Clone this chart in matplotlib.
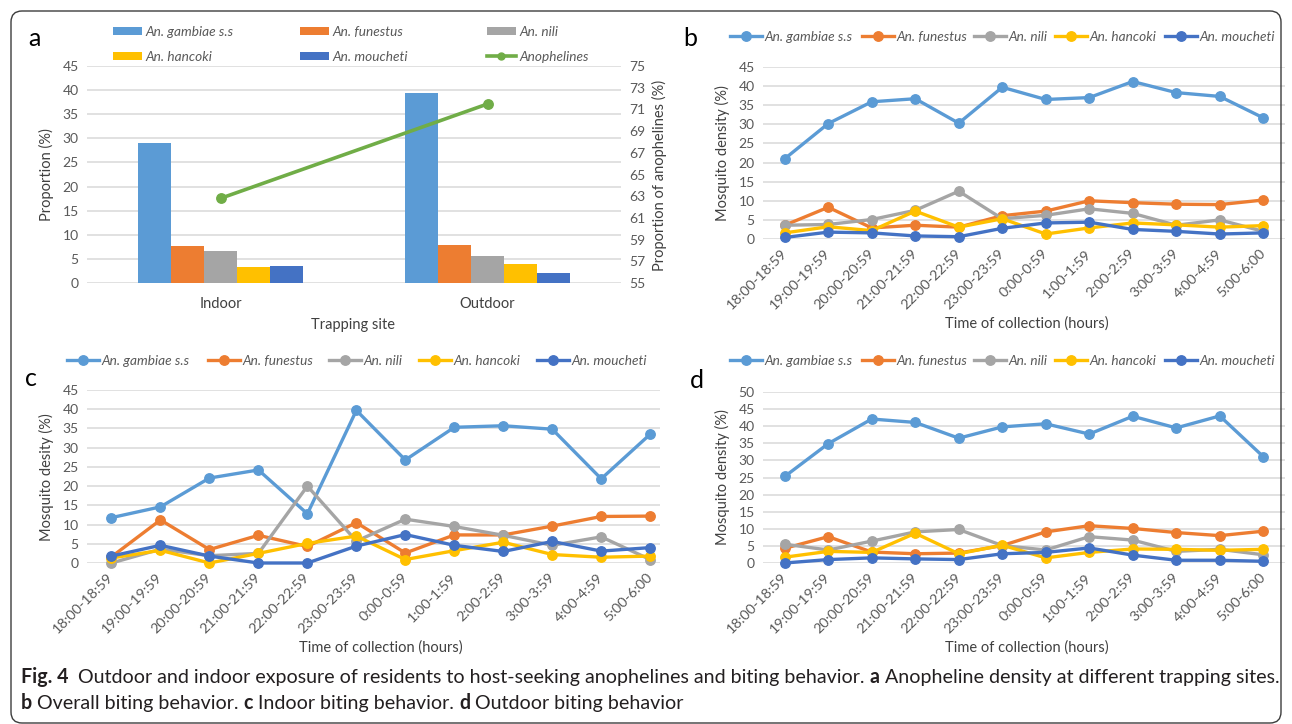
import matplotlib
matplotlib.use("Agg")
import matplotlib.pyplot as plt
from matplotlib.lines import Line2D
from matplotlib.patches import Patch, FancyBboxPatch
from matplotlib.transforms import IdentityTransform
import numpy as np

W, H, DPI = 1292, 724, 100
FONT = "Lato"
plt.rcParams["font.family"] = [FONT, "DejaVu Sans"]

species = ["An. gambiae s.s", "An. funestus", "An. nili", "An. hancoki", "An. moucheti"]
colors = ["#5B9BD5", "#ED7D31", "#A5A5A5", "#FFC000", "#4472C4"]
green = "#70AD47"

# (a) proportions by trapping site
sites = ["Indoor", "Outdoor"]
prop_gambiae = [29.1, 39.3]
prop_funestus = [7.6, 7.8]
prop_nili = [6.7, 5.7]
prop_hancoki = [3.4, 3.9]
prop_moucheti = [3.6, 2.1]
prop_anophelines = [62.8, 71.5]

hours = ["18:00-18:59", "19:00-19:59", "20:00-20:59", "21:00-21:59", "22:00-22:59",
         "23:00-23:59", "0:00-0:59", "1:00-1:59", "2:00-2:59", "3:00-3:59",
         "4:00-4:59", "5:00-6:00"]

# (b) overall biting behaviour
b_gambiae = [21.0, 30.2, 35.9, 36.7, 30.3, 39.7, 36.5, 37.0, 41.2, 38.3, 37.3, 31.7]
b_funestus = [3.6, 8.3, 2.9, 3.6, 3.1, 6.1, 7.3, 10.0, 9.5, 9.1, 9.0, 10.2]
b_nili = [3.6, 3.8, 5.1, 7.5, 12.5, 5.3, 6.2, 7.9, 6.7, 3.6, 5.0, 2.0]
b_hancoki = [1.6, 3.2, 2.2, 7.3, 3.1, 5.3, 1.3, 2.9, 4.2, 3.7, 3.1, 3.5]
b_moucheti = [0.4, 1.8, 1.6, 0.8, 0.6, 2.8, 4.2, 4.4, 2.5, 2.0, 1.3, 1.6]

# (c) indoor biting behaviour
c_gambiae = [11.8, 14.6, 22.1, 24.2, 12.8, 39.7, 26.8, 35.3, 35.7, 34.8, 21.9, 33.5]
c_funestus = [1.6, 11.2, 3.5, 7.2, 4.3, 10.5, 2.6, 7.3, 7.3, 9.6, 12.1, 12.2]
c_nili = [0.0, 3.6, 1.9, 2.5, 20.0, 5.7, 11.4, 9.5, 7.2, 4.6, 6.8, 0.9]
c_hancoki = [1.3, 3.3, 0.0, 2.5, 5.1, 7.0, 0.9, 3.2, 5.4, 2.2, 1.5, 1.8]
c_moucheti = [1.8, 4.6, 1.8, 0.0, 0.0, 4.4, 7.4, 4.6, 3.0, 5.6, 3.1, 4.0]

# (d) outdoor biting behaviour
d_gambiae = [25.3, 34.9, 42.1, 41.1, 36.5, 39.8, 40.7, 37.7, 42.9, 39.5, 43.0, 31.1]
d_funestus = [4.3, 7.7, 3.2, 2.7, 2.9, 5.1, 9.1, 10.9, 10.1, 8.9, 8.0, 9.3]
d_nili = [5.5, 3.8, 6.4, 9.1, 9.8, 5.1, 3.8, 7.7, 6.7, 3.4, 4.0, 2.4]
d_hancoki = [1.7, 3.4, 3.1, 8.7, 2.7, 5.2, 1.5, 3.1, 4.1, 4.0, 3.7, 4.0]
d_moucheti = [0.0, 1.0, 1.5, 1.2, 1.0, 2.7, 3.1, 4.4, 2.3, 0.8, 0.8, 0.5]

TICK_C = "#595959"
LABEL_C = "#404040"
GRID_C = "#D9D9D9"

fig = plt.figure(figsize=(W / DPI, H / DPI), dpi=DPI)


def fx(x):
    return x / W


def fy(y):
    return 1 - y / H


def px_axes(x0, y0, x1, y1):
    return fig.add_axes([fx(x0), fy(y1), (x1 - x0) / W, (y1 - y0) / H])


def excel_style(ax, ymax, step):
    ax.set_ylim(0, ymax)
    ax.set_yticks(np.arange(0, ymax + 1, step))
    for s in ax.spines.values():
        s.set_visible(False)
    ax.grid(axis="y", color=GRID_C, lw=1.1)
    ax.set_axisbelow(True)
    ax.tick_params(length=0, labelsize=10, colors=TICK_C, pad=6)


def line_panel(ax, series, ymax, step, xright):
    excel_style(ax, ymax, step)
    x = np.arange(len(hours))
    for k, (vals, c) in enumerate(zip(series, colors)):
        ax.plot(x, vals, color=c, lw=2.4, marker="o", ms=6.8, zorder=3 + k,
                clip_on=False, solid_joinstyle="round")
    ax.set_xlim(-0.5, xright)
    ax.set_xticks(x)
    ax.set_xticklabels(hours, rotation=45, ha="right", va="center",
                       rotation_mode="anchor", fontsize=10.4)
    ax.tick_params(axis="x", pad=9)


def line_legend(xs, y):
    for name, c, x0 in zip(species, colors, xs):
        h = Line2D([0], [0], color=c, lw=2.4, marker="o", ms=6.8)
        leg = fig.legend([h], [name], loc="center left",
                         bbox_to_anchor=(fx(x0), fy(y)), frameon=False,
                         borderpad=0, borderaxespad=0, handlelength=2.35,
                         handletextpad=0.2,
                         prop={"family": FONT, "style": "italic", "size": 9.8})
        for t in leg.get_texts():
            t.set_color(TICK_C)


# ---------------- panel a ----------------
axa = px_axes(87, 66, 621, 283)
excel_style(axa, 45, 5)
xa = np.arange(len(sites))
bw = 0.124
bar_series = [prop_gambiae, prop_funestus, prop_nili, prop_hancoki, prop_moucheti]
for i, (vals, c) in enumerate(zip(bar_series, colors)):
    axa.bar(xa + (i - 2) * bw, vals, bw, color=c, zorder=2)
axa.set_xlim(-0.5, 1.5)
axa.set_xticks(xa)
axa.set_xticklabels(sites, fontsize=10.5)
axa.tick_params(axis="x", pad=10, colors=LABEL_C)

axa2 = axa.twinx()
axa2.set_ylim(55, 75)
axa2.set_yticks(np.arange(55, 76, 2))
for s in axa2.spines.values():
    s.set_visible(False)
axa2.tick_params(length=0, labelsize=10, colors=TICK_C, pad=6)
axa2.plot(xa, prop_anophelines, color=green, lw=2.6, marker="o", ms=6.8,
          zorder=5)
axa2.set_xlim(-0.5, 1.5)

# legend of panel a: three columns, two rows
bar_handles = [Patch(facecolor=c, edgecolor="none") for c in colors]
green_handle = Line2D([0], [0], color=green, lw=2.6, marker="o", ms=5)
cols = [
    ([bar_handles[0], bar_handles[3]], [species[0], species[3]], 113),
    ([bar_handles[1], bar_handles[4]], [species[1], species[4]], 300),
    ([bar_handles[2], green_handle], [species[2], "Anophelines"], 487),
]
for hs, ls, x0 in cols:
    leg = fig.legend(hs, ls, loc="upper left", bbox_to_anchor=(fx(x0), fy(26)),
                     frameon=False, borderpad=0, borderaxespad=0,
                     handlelength=2.1, handleheight=0.55, handletextpad=0.25,
                     labelspacing=0.95,
                     prop={"family": FONT, "style": "italic", "size": 9.8})
    for t in leg.get_texts():
        t.set_color(TICK_C)

# ---------------- panel b ----------------
axb = px_axes(763, 67, 1285, 239)
line_panel(axb, [b_gambiae, b_funestus, b_nili, b_hancoki, b_moucheti], 45, 5, 11.5)
line_legend([730, 862, 974, 1055, 1165], 37)

# ---------------- panel c ----------------
axc = px_axes(87, 390, 660, 563)
line_panel(axc, [c_gambiae, c_funestus, c_nili, c_hancoki, c_moucheti], 45, 5, 11.2)
line_legend([67, 208, 329, 419, 537], 361)

# ---------------- panel d ----------------
axd = px_axes(763, 392, 1285, 563)
line_panel(axd, [d_gambiae, d_funestus, d_nili, d_hancoki, d_moucheti], 50, 5, 11.5)
line_legend([730, 862, 974, 1055, 1165], 361)

# panel letters
for letter, x0, y0 in [("a", 34, 39), ("b", 690, 38), ("c", 31, 379), ("d", 697, 381)]:
    fig.text(fx(x0), fy(y0), letter, fontsize=18, ha="center", va="center",
             color="#000000")

# axis titles
ax_titles = [
    ("Proportion (%)", 46, 175, 90),
    ("Proportion of anophelines (%)", 659, 175, 90),
    ("Trapping site", 353, 325, 0),
    ("Mosquito density (%)", 722, 153, 90),
    ("Time of collection (hours)", 1027, 324, 0),
    ("Mosquito desity (%)", 46, 477, 90),
    ("Time of collection (hours)", 381, 648, 0),
    ("Mosquito density (%)", 722, 477, 90),
    ("Time of collection (hours)", 1027, 648, 0),
]
for txt, x0, y0, rot in ax_titles:
    fig.text(fx(x0), fy(y0), txt, fontsize=10.5, ha="center", va="center",
             rotation=rot, color=LABEL_C)

# caption with bold run markers
line1 = [("Fig. 4", "bold"),
         ("  Outdoor and indoor exposure of residents to host-seeking anophelines and biting behavior. ", "normal"),
         ("a", "bold"),
         (" Anopheline density at different trapping sites.", "normal")]
line2 = [("b", "bold"), (" Overall biting behavior. ", "normal"),
         ("c", "bold"), (" Indoor biting behavior. ", "normal"),
         ("d", "bold"), (" Outdoor biting behavior", "normal")]

renderer = fig.canvas.get_renderer()


def run_width(runs, size):
    total = 0
    for txt, wt in runs:
        t = fig.text(0, 0, txt, fontsize=size, fontweight=wt, family=FONT)
        total += t.get_window_extent(renderer).width
        t.remove()
    return total


base = 12.0
cap_size = base * 1252 / run_width(line1, base)


def draw_runs(runs, x0, y0, size):
    x = x0
    for txt, wt in runs:
        t = fig.text(fx(x), fy(y0), txt, fontsize=size, fontweight=wt,
                     family=FONT, ha="left", va="center", color="#231F20")
        x += t.get_window_extent(renderer).width


draw_runs(line1, 21, 677, cap_size)
draw_runs(line2, 21, 703, cap_size)

# rounded outer frame
frame = FancyBboxPatch((11, 1), W - 22, H - 12,
                       boxstyle="round,pad=0,rounding_size=11",
                       transform=IdentityTransform(), fill=False,
                       edgecolor="#3C3C3C", lw=1.0)
fig.add_artist(frame)

fig.savefig("out.png", dpi=DPI)
